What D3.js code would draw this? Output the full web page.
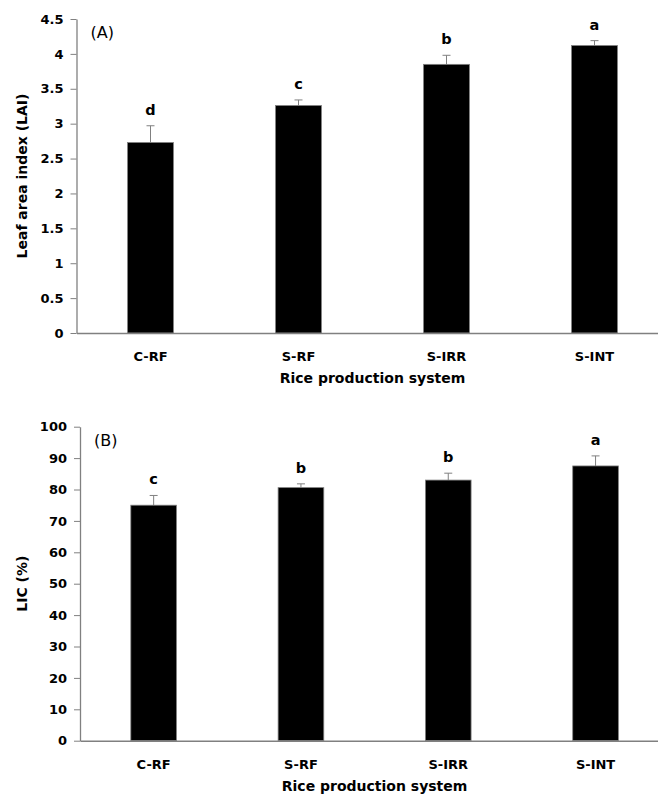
<!DOCTYPE html>
<html>
<head>
<meta charset="utf-8">
<script src="https://cdn.jsdelivr.net/npm/d3@7"></script>
<style>
  body { margin: 0; background: #fff; }
  svg { display: block; font-family: 'DejaVu Sans', sans-serif; }
</style>
</head>
<body>
<svg id="chart" width="658" height="801"></svg>
<script>
const categories = ['C-RF', 'S-RF', 'S-IRR', 'S-INT'];

const laiMeans = [2.73, 3.26, 3.85, 4.12];
const laiErrors = [0.24, 0.08, 0.13, 0.07];
const laiLetters = ['d', 'c', 'b', 'a'];
const laiTicks = [0, 0.5, 1, 1.5, 2, 2.5, 3, 3.5, 4, 4.5];

const licMeans = [75.0, 80.6, 83.0, 87.5];
const licErrors = [3.1, 1.2, 2.2, 3.2];
const licLetters = ['c', 'b', 'b', 'a'];
const licTicks = [0, 10, 20, 30, 40, 50, 60, 70, 80, 90, 100];

const svg = d3.select('#chart');
const grey = '#808080';

const styleTickText = a => a.selectAll('.tick text')
  .attr('font-family', "'DejaVu Sans', sans-serif")
  .attr('font-weight', 'bold')
  .attr('font-size', 13)
  .attr('fill', '#000');

const drawPanel = opts => {
  const { left, top, bottom, step, means, errors, letters, ticks, yLabel, tag } = opts;
  const g = svg.append('g');

  const x = d3.scaleBand()
    .domain(categories)
    .range([left, left + step * categories.length]);

  const y = d3.scaleLinear()
    .domain([0, d3.max(ticks)])
    .range([bottom, top]);

  const barW = x.bandwidth() * 0.31;
  const rows = categories.map((c, i) => ({
    c, mean: means[i], err: errors[i], letter: letters[i],
  }));

  // error bars (drawn behind the bars)
  const eb = g.append('g').attr('stroke', grey).attr('stroke-width', 1);
  eb.selectAll('.stem')
    .data(rows)
    .join('line')
      .attr('x1', d => x(d.c) + x.bandwidth() / 2)
      .attr('x2', d => x(d.c) + x.bandwidth() / 2)
      .attr('y1', d => y(d.mean))
      .attr('y2', d => y(d.mean + d.err));
  eb.selectAll('.cap')
    .data(rows)
    .join('line')
      .attr('x1', d => x(d.c) + x.bandwidth() / 2 - 4)
      .attr('x2', d => x(d.c) + x.bandwidth() / 2 + 4)
      .attr('y1', d => y(d.mean + d.err))
      .attr('y2', d => y(d.mean + d.err));

  g.append('g')
    .selectAll('rect')
    .data(rows)
    .join('rect')
      .attr('x', d => x(d.c) + (x.bandwidth() - barW) / 2)
      .attr('y', d => y(d.mean))
      .attr('width', barW)
      .attr('height', d => y(0) - y(d.mean))
      .attr('fill', '#000')
      .attr('stroke', grey)
      .attr('stroke-width', 0.8);

  g.append('g')
    .selectAll('text')
    .data(rows)
    .join('text')
      .attr('x', d => x(d.c) + x.bandwidth() / 2)
      .attr('y', d => y(d.mean + d.err) - 11)
      .attr('text-anchor', 'middle')
      .attr('font-weight', 'bold')
      .attr('font-size', 14.5)
      .text(d => d.letter);

  // y axis
  g.append('g')
    .attr('transform', `translate(${left},0)`)
    .call(d3.axisLeft(y).tickValues(ticks).tickFormat(d => String(d))
      .tickSize(6).tickPadding(7).tickSizeOuter(0))
    .call(a => a.select('.domain').attr('stroke', grey).attr('stroke-width', 1.3))
    .call(a => a.selectAll('.tick line').attr('stroke', grey))
    .call(styleTickText);

  // x axis (line only)
  g.append('g')
    .attr('transform', `translate(0,${bottom})`)
    .call(d3.axisBottom(x).tickSize(0).tickPadding(19).tickSizeOuter(0))
    .call(a => a.select('.domain').attr('stroke', grey).attr('stroke-width', 1.5))
    .call(styleTickText);

  g.append('text')
    .attr('x', left + step * 2)
    .attr('y', bottom + 50)
    .attr('text-anchor', 'middle')
    .attr('font-weight', 'bold')
    .attr('font-size', 14)
    .text('Rice production system');

  g.append('text')
    .attr('transform', `translate(27,${(top + bottom) / 2}) rotate(-90)`)
    .attr('text-anchor', 'middle')
    .attr('font-weight', 'bold')
    .attr('font-size', 14)
    .text(yLabel);

  g.append('text')
    .attr('x', left + 14)
    .attr('y', top + 19)
    .attr('font-size', 16)
    .text(tag);
};

drawPanel({
  left: 76.5, top: 19, bottom: 333, step: 148,
  means: laiMeans, errors: laiErrors, letters: laiLetters, ticks: laiTicks,
  yLabel: 'Leaf area index (LAI)', tag: '(A)',
});

drawPanel({
  left: 80, top: 426.7, bottom: 740.7, step: 147.3,
  means: licMeans, errors: licErrors, letters: licLetters, ticks: licTicks,
  yLabel: 'LIC (%)', tag: '(B)',
});
</script>
</body>
</html>
